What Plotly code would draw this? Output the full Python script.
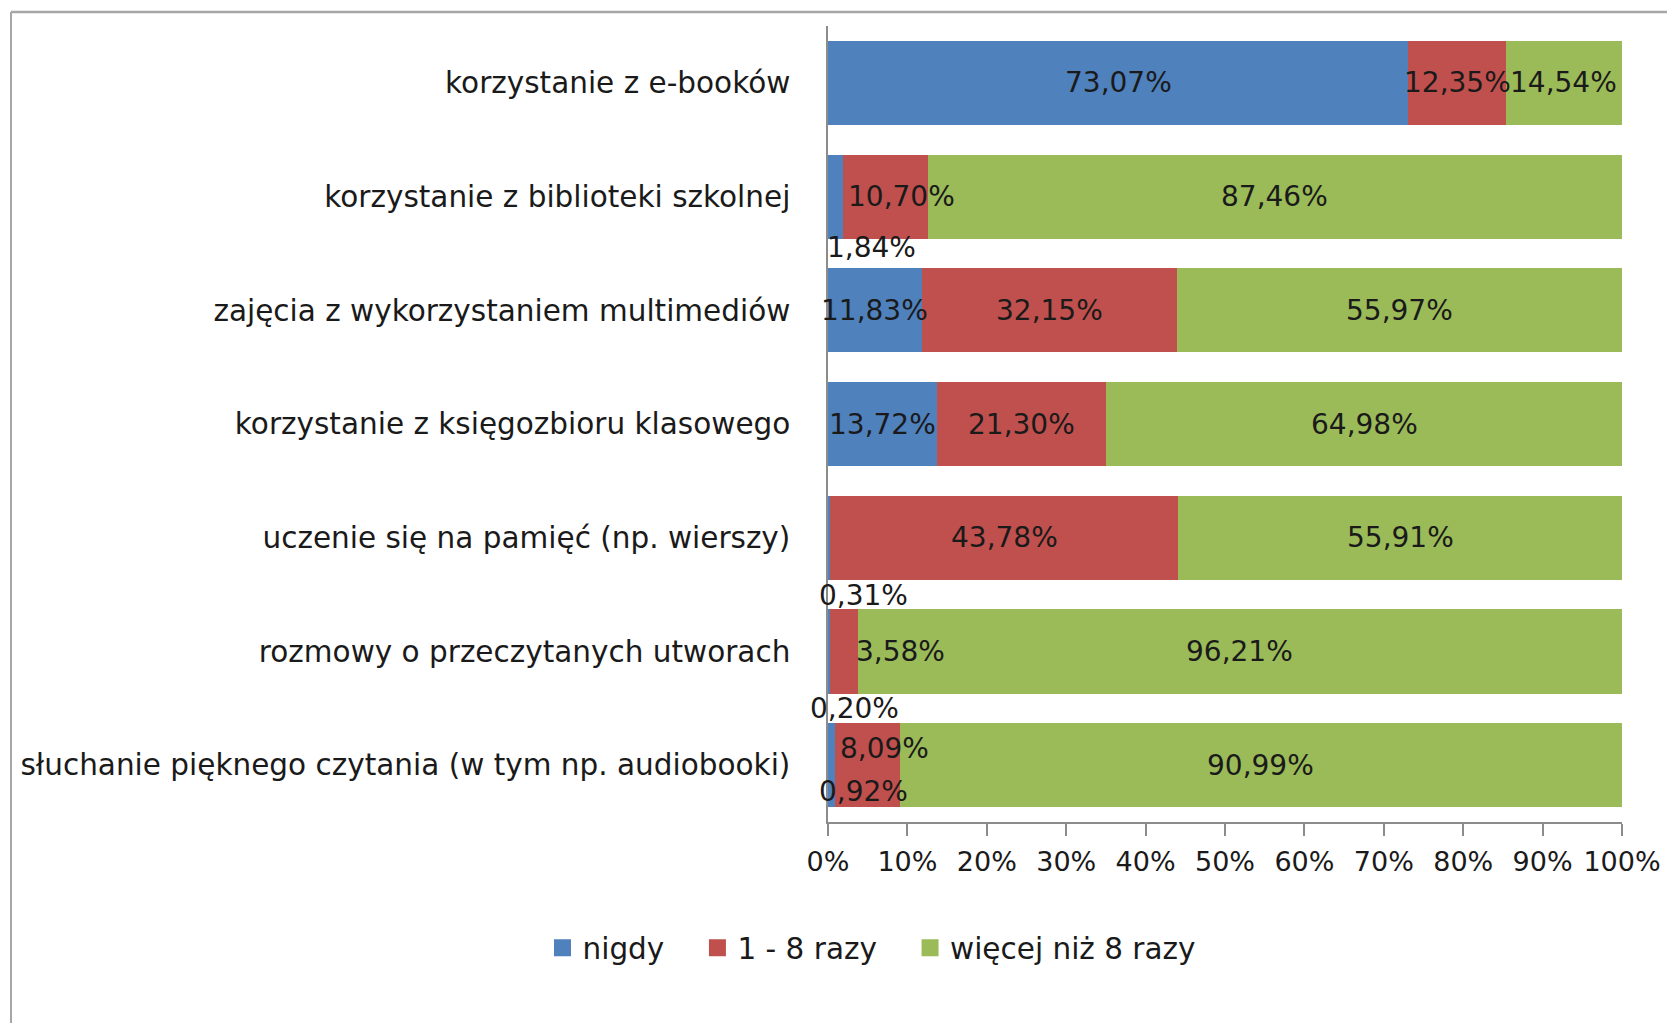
import plotly.graph_objects as go

categories = [
    "korzystanie z e-booków",
    "korzystanie z biblioteki szkolnej",
    "zajęcia z wykorzystaniem multimediów",
    "korzystanie z księgozbioru klasowego",
    "uczenie się na pamięć (np. wierszy)",
    "rozmowy o przeczytanych utworach",
    "słuchanie pięknego czytania (w tym np. audiobooki)",
]
series_names = ["nigdy", "1 - 8 razy", "więcej niż 8 razy"]
nigdy = [73.07, 1.84, 11.83, 13.72, 0.31, 0.20, 0.92]
razy_1_8 = [12.35, 10.70, 32.15, 21.30, 43.78, 3.58, 8.09]
wiecej = [14.54, 87.46, 55.97, 64.98, 55.91, 96.21, 90.99]
tick_vals = [0, 10, 20, 30, 40, 50, 60, 70, 80, 90, 100]
tick_text = ["0%", "10%", "20%", "30%", "40%", "50%", "60%", "70%", "80%", "90%", "100%"]

colors = ["#4F81BD", "#C0504D", "#9BBB59"]
series = [nigdy, razy_1_8, wiecej]

# label pixel offsets (series index, category index) -> (dx, dy)
label_offsets = {
    (1, 1): (16, 0),
    (0, 1): (36, -51),
    (0, 4): (34, -58),
    (1, 5): (57, 0),
    (0, 5): (26, -57),
    (1, 6): (17, 17),
    (0, 6): (32, -26),
}

FONT = "DejaVu Sans"
TXT = "#1a1a1a"
W, H = 1675, 1023
ML, MR, MT, MB = 820, 61, 18, 209
LEGEND_PAD = "\u00a0\u00a0\u00a0"

fig = go.Figure()
for name, vals, col in zip(series_names, series, colors):
    fig.add_trace(go.Bar(
        y=categories, x=vals, name=name, orientation="h",
        marker=dict(color=col, line=dict(width=0)),
        hoverinfo="x+name", showlegend=False, legendgroup=name,
    ))
# legend-only entries (larger swatches)
for i, (name, col) in enumerate(zip(series_names, colors)):
    label = name + (LEGEND_PAD if i < len(series_names) - 1 else "")
    fig.add_trace(go.Bar(
        y=[None], x=[None], name=label, orientation="h",
        marker=dict(color=col, line=dict(color=col, width=5)),
        showlegend=True, legendgroup=name, hoverinfo="skip",
    ))

def fmt(v):
    return f"{v:.2f}".replace(".", ",") + "%"

annotations = []
for ci, cat in enumerate(categories):
    cum = 0.0
    for si, vals in enumerate(series):
        v = vals[ci]
        mid = cum + v / 2
        cum += v
        dx, dy = label_offsets.get((si, ci), (0, 0))
        annotations.append(dict(
            x=mid, y=cat, xref="x", yref="y", text=fmt(v), showarrow=False,
            xanchor="center", yanchor="middle", xshift=dx, yshift=dy,
            font=dict(family=FONT, size=28, color=TXT),
        ))

pw = W - ML - MR
ph = H - MT - MB
def px_x(p):
    return (p - ML) / pw
def px_y(p):
    return 1 - (p - MT) / ph

shapes = [
    dict(type="line", xref="paper", yref="paper",
         x0=px_x(3), x1=px_x(W + 10), y0=px_y(4), y1=px_y(4),
         line=dict(color="#a6a6a6", width=2.5)),
    dict(type="line", xref="paper", yref="paper",
         x0=px_x(3), x1=px_x(3), y0=px_y(4), y1=px_y(H + 10),
         line=dict(color="#a6a6a6", width=2)),
]

fig.update_layout(
    barmode="stack",
    bargap=0.26,
    width=W, height=H,
    margin=dict(l=ML, r=MR, t=MT, b=MB, autoexpand=False),
    paper_bgcolor="white", plot_bgcolor="white",
    showlegend=True,
    legend=dict(
        orientation="h", xref="container", yref="container",
        x=864 / W, y=1 - 940 / H, xanchor="center", yanchor="middle",
        font=dict(family=FONT, size=29.5, color=TXT),
        itemwidth=30, traceorder="normal",
    ),
    annotations=annotations,
    shapes=shapes,
    xaxis=dict(
        range=[0, 100], tickvals=tick_vals, ticktext=tick_text,
        showgrid=False, zeroline=False,
        showline=True, linecolor="#8c8c8c", linewidth=1.5,
        ticks="outside", ticklen=12, tickcolor="#8c8c8c", tickwidth=1.5,
        ticklabelstandoff=3,
        tickfont=dict(family=FONT, size=27, color=TXT),
        fixedrange=True,
    ),
    yaxis=dict(
        autorange="reversed", showgrid=False, zeroline=False,
        showline=True, linecolor="#8c8c8c", linewidth=1.5,
        ticks="", ticklabelstandoff=30,
        tickfont=dict(family=FONT, size=29.5, color=TXT),
        fixedrange=True,
    ),
)

fig.write_html("out.html")
